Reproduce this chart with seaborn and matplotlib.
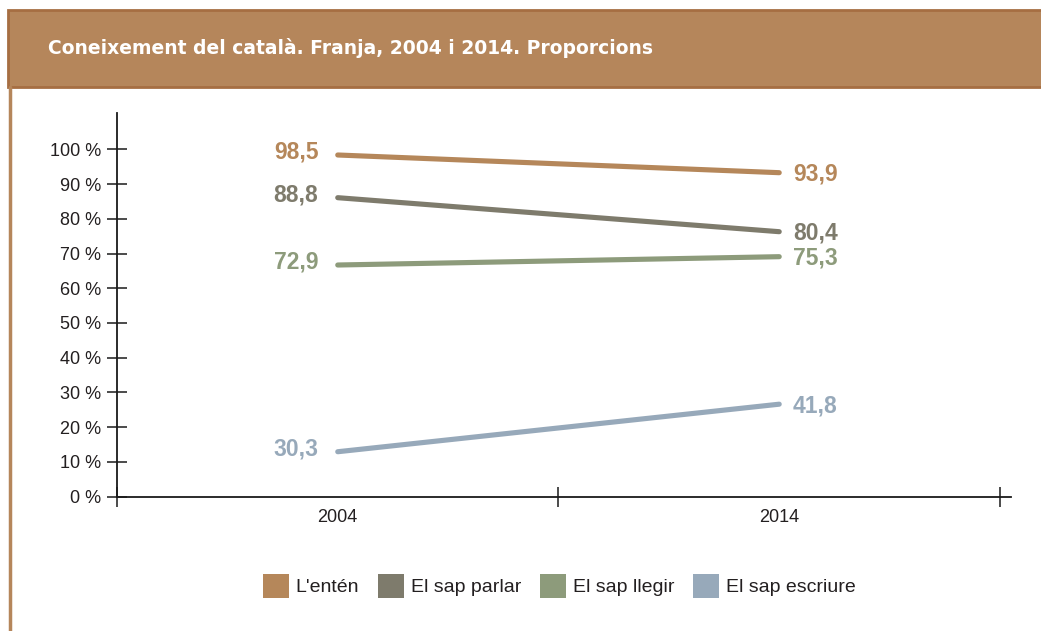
import pandas as pd
import matplotlib
matplotlib.use('Agg')
import matplotlib.pyplot as plt
from matplotlib import font_manager
from matplotlib.patches import Rectangle, Patch
from matplotlib.lines import Line2D
import seaborn as sns

# Data
years = ['2004', '2014']
series = ["L'entén", 'El sap parlar', 'El sap llegir', 'El sap escriure']
# values printed next to the lines
label_values = {
    "L'entén": [98.5, 93.9],
    'El sap parlar': [88.8, 80.4],
    'El sap llegir': [72.9, 75.3],
    'El sap escriure': [30.3, 41.8],
}
# heights at which the lines are actually drawn in the original
drawn_values = {
    "L'entén": [98.4, 93.3],
    'El sap parlar': [86.1, 76.3],
    'El sap llegir': [66.7, 69.1],
    'El sap escriure': [12.9, 26.6],
}
colors = ['#B5875A', '#7E7B6C', '#8D9B7B', '#97A9BA']
y_ticks = list(range(0, 101, 10))

sns.set_style('white')
plt.rcParams['font.family'] = ['Liberation Sans', 'DejaVu Sans']

# pick the normal-width bold file (avoid the Narrow variant)
bold_path = None
for f in font_manager.findSystemFonts():
    if f.endswith('LiberationSans-Bold.ttf'):
        bold_path = f
        break
if bold_path:
    value_font = font_manager.FontProperties(fname=bold_path, size=16.5)
else:
    value_font = font_manager.FontProperties(family='DejaVu Sans', weight='bold', size=15)

# long format table for seaborn
rows = []
for s in series:
    for i, yr in enumerate(years):
        rows.append({'serie': s, 'pos': i + 0.5, 'valor': drawn_values[s][i]})
df = pd.DataFrame(rows)

fig = plt.figure(figsize=(10.41, 6.31), dpi=100)
fig.patch.set_facecolor('white')

# header band and left frame line
W, H = 1041, 631
fig.patches.append(Rectangle((8 / W, 1 - 87 / H), 1.0, 77 / H, transform=fig.transFigure,
                             facecolor='#B5865B', edgecolor='#A66E42', linewidth=2, zorder=0))
fig.lines.append(Line2D([9.5 / W, 9.5 / W], [0, 1 - 87 / H], transform=fig.transFigure,
                        color='#B5865B', linewidth=2.5))
fig.text(48 / W, 1 - 48 / H, 'Coneixement del català. Franja, 2004 i 2014. Proporcions',
         color='white', fontsize=13.5, fontweight='bold', va='center', ha='left',
         family='DejaVu Sans')

ax = fig.add_axes([117 / W, 1 - 496.5 / H, 894 / W, 383.5 / H])
sns.lineplot(data=df, x='pos', y='valor', hue='serie', hue_order=series,
             palette=colors, linewidth=3.7, legend=False, ax=ax)
for line in ax.get_lines():
    line.set_solid_capstyle('round')

ax.set_xlim(0, 2.025)
ax.set_ylim(0, 110.5)
ax.set_xlabel('')
ax.set_ylabel('')
ax.spines['top'].set_visible(False)
ax.spines['right'].set_visible(False)
for sp in ['left', 'bottom']:
    ax.spines[sp].set_linewidth(1.3)
    ax.spines[sp].set_color('#1a1a1a')

ax.set_yticks(y_ticks)
ax.set_yticklabels([f'{v} %' for v in y_ticks])
ax.tick_params(axis='y', direction='inout', length=14.4, width=1.1, pad=4,
               labelsize=13, labelcolor='#231F20', color='#1a1a1a', left=True)

# year labels in the middle, tick marks at the edges
ax.set_xticks([0.5, 1.5])
ax.set_xticklabels(years)
ax.tick_params(axis='x', which='major', length=0, pad=9, labelsize=13, labelcolor='#231F20')
ax.set_xticks([0, 1, 2], minor=True)
ax.tick_params(axis='x', which='minor', direction='inout', length=15, width=1.1,
               color='#1a1a1a', bottom=True)

# value labels
for s, c in zip(series, colors):
    ax.annotate(f'{label_values[s][0]:.1f}'.replace('.', ','), (0.5, drawn_values[s][0]),
                xytext=(-14, 2), textcoords='offset points', ha='right', va='center',
                fontproperties=value_font, color=c)
    ax.annotate(f'{label_values[s][1]:.1f}'.replace('.', ','), (1.5, drawn_values[s][1]),
                xytext=(10, -1), textcoords='offset points', ha='left', va='center',
                fontproperties=value_font, color=c)

handles = [Patch(facecolor=c, edgecolor='none', label=s) for s, c in zip(series, colors)]
fig.legend(handles=handles, loc='center', bbox_to_anchor=(559 / W, 1 - 586 / H), ncol=4,
           frameon=False, fontsize=14, handlelength=1.35, handleheight=1.5,
           handletextpad=0.35, columnspacing=0.95, labelcolor='#231F20')

plt.savefig('out.png', dpi=100, facecolor='white')
